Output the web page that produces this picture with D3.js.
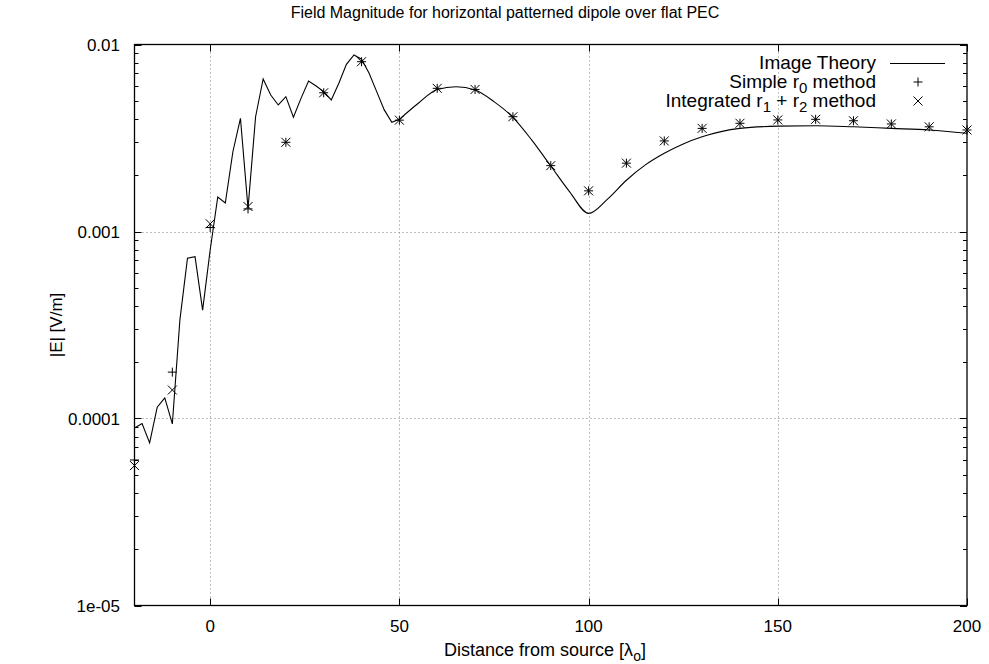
<!DOCTYPE html>
<html>
<head>
<meta charset="utf-8">
<script src="https://cdn.jsdelivr.net/npm/d3@7"></script>
<style>
  body { margin: 0; background: #fff; }
  text { font-family: "Liberation Sans", Arial, sans-serif; }
</style>
</head>
<body>
<div id="plot"></div>
<script>
// Image theory curve: jagged near field (step 2) then smooth far field
const imageX = [-20, -18, -16, -14, -12, -10, -8, -6, -4, -2, 0, 2, 4, 6, 8, 10, 12, 14, 16, 18, 20,
  22, 24, 26, 28, 30, 32, 34, 36, 38, 40, 42, 44, 46, 48, 50];
const imageY = [8.9e-5, 9.4e-5, 7.4e-5, 1.15e-4, 1.29e-4, 9.35e-5, 3.37e-4, 7.2e-4, 7.33e-4, 3.8e-4, 7.96e-4,
  1.53e-3, 1.42e-3, 2.67e-3, 4.03e-3, 1.33e-3, 4.11e-3, 6.54e-3, 5.37e-3, 4.75e-3, 5.26e-3,
  4.08e-3, 5.15e-3, 6.38e-3, 6.0e-3, 5.6e-3, 5.05e-3, 6.2e-3, 7.83e-3, 8.79e-3, 8.34e-3,
  7.01e-3, 5.6e-3, 4.47e-3, 3.84e-3, 3.98e-3];
const smoothX = [50, 55, 60, 65, 70, 75, 80, 85, 90, 95, 100, 105, 110, 115, 120, 125, 130, 140, 150, 160, 170, 180, 190, 200];
const smoothY = [3.98e-3, 4.85e-3, 5.75e-3, 5.94e-3, 5.71e-3, 4.95e-3, 4.08e-3, 3.08e-3, 2.24e-3, 1.63e-3, 1.25e-3,
  1.49e-3, 1.88e-3, 2.27e-3, 2.62e-3, 2.94e-3, 3.21e-3, 3.56e-3, 3.66e-3, 3.68e-3, 3.63e-3, 3.56e-3, 3.49e-3, 3.35e-3];

// Sample points of the two methods
const sampleX = [-20, -10, 0, 10, 20, 30, 40, 50, 60, 70, 80, 90, 100, 110, 120, 130, 140, 150, 160, 170, 180, 190, 200];
const simpleY = [6.0e-5, 1.77e-4, 1.05e-3, 1.32e-3, 3.0e-3, 5.52e-3, 8.09e-3, 3.94e-3, 5.83e-3, 5.75e-3, 4.11e-3,
  2.25e-3, 1.65e-3, 2.32e-3, 3.05e-3, 3.56e-3, 3.79e-3, 3.95e-3, 3.98e-3, 3.91e-3, 3.76e-3, 3.63e-3, 3.49e-3];
const integratedY = [5.6e-5, 1.42e-4, 1.1e-3, 1.36e-3, 3.0e-3, 5.52e-3, 8.09e-3, 3.94e-3, 5.83e-3, 5.75e-3, 4.11e-3,
  2.25e-3, 1.65e-3, 2.32e-3, 3.05e-3, 3.56e-3, 3.79e-3, 3.95e-3, 3.98e-3, 3.91e-3, 3.76e-3, 3.63e-3, 3.49e-3];

const xTicks = [0, 50, 100, 150, 200];
const yTicks = [1e-5, 1e-4, 1e-3, 1e-2];
const yTickLabels = ["1e-05", "0.0001", "0.001", "0.01"];
const legendLabels = ["Image Theory", "Simple r<sub>0</sub> method", "Integrated r<sub>1</sub> + r<sub>2</sub> method"];

const W = 989, H = 664;
const margin = { left: 134.5, right: 967, top: 44.5, bottom: 605.5 };

const svg = d3.select("#plot").append("svg")
  .attr("width", W)
  .attr("height", H);

const x = d3.scaleLinear().domain([-20, 200]).range([margin.left, margin.right]);
const y = d3.scaleLog().domain([1e-5, 1e-2]).range([margin.bottom, margin.top]);

// grid
const grid = svg.append("g").attr("stroke", "#808080").attr("stroke-dasharray", "1,3").attr("stroke-width", 1);
xTicks.filter(t => t < 200).forEach(t => {
  grid.append("line").attr("x1", Math.round(x(t)) + 0.5).attr("x2", Math.round(x(t)) + 0.5)
    .attr("y1", margin.top).attr("y2", margin.bottom);
});
yTicks.filter(t => t > 1e-5 && t < 1e-2).forEach(t => {
  grid.append("line").attr("x1", margin.left).attr("x2", margin.right)
    .attr("y1", Math.round(y(t)) + 0.5).attr("y2", Math.round(y(t)) + 0.5);
});

// ticks (mirrored, inward)
const ticks = svg.append("g").attr("stroke", "#000").attr("stroke-width", 1);
xTicks.forEach(t => {
  const px = Math.round(x(t)) + 0.5;
  ticks.append("line").attr("x1", px).attr("x2", px).attr("y1", margin.bottom).attr("y2", margin.bottom - 7);
  ticks.append("line").attr("x1", px).attr("x2", px).attr("y1", margin.top).attr("y2", margin.top + 7);
});
const minorY = [];
for (let e = -5; e < -2; e++) for (let m = 2; m <= 9; m++) minorY.push(m * Math.pow(10, e));
minorY.forEach(t => {
  const py = Math.round(y(t)) + 0.5;
  ticks.append("line").attr("x1", margin.left).attr("x2", margin.left + 4).attr("y1", py).attr("y2", py);
  ticks.append("line").attr("x1", margin.right).attr("x2", margin.right - 4).attr("y1", py).attr("y2", py);
});
yTicks.forEach(t => {
  const py = Math.round(y(t)) + 0.5;
  ticks.append("line").attr("x1", margin.left).attr("x2", margin.left + 7).attr("y1", py).attr("y2", py);
  ticks.append("line").attr("x1", margin.right).attr("x2", margin.right - 7).attr("y1", py).attr("y2", py);
});

// tick labels
svg.append("g").selectAll("text").data(xTicks).join("text")
  .attr("x", d => x(d)).attr("y", 632)
  .attr("text-anchor", "middle").attr("font-size", 17)
  .text(d => d);
svg.append("g").selectAll("text").data(yTicks).join("text")
  .attr("x", 120).attr("y", d => y(d) + 6)
  .attr("text-anchor", "end").attr("font-size", 17)
  .text((d, i) => yTickLabels[i]);

// image theory line
const line = d3.line().x(d => x(d[0])).y(d => y(d[1]));
svg.append("path")
  .datum(imageX.map((v, i) => [v, imageY[i]]))
  .attr("fill", "none").attr("stroke", "#000").attr("stroke-width", 1.1)
  .attr("d", line);
svg.append("path")
  .datum(smoothX.map((v, i) => [v, smoothY[i]]))
  .attr("fill", "none").attr("stroke", "#000").attr("stroke-width", 1.1)
  .attr("d", line.curve(d3.curveMonotoneX));

// markers
const s = 4.5;
const plusPath = (cx, cy) => `M${cx - s},${cy}H${cx + s}M${cx},${cy - s}V${cy + s}`;
const crossPath = (cx, cy) => `M${cx - s},${cy - s}L${cx + s},${cy + s}M${cx - s},${cy + s}L${cx + s},${cy - s}`;
svg.append("g").selectAll("path").data(sampleX).join("path")
  .attr("d", (d, i) => plusPath(x(d), y(simpleY[i])))
  .attr("stroke", "#000").attr("stroke-width", 1).attr("fill", "none");
svg.append("g").selectAll("path").data(sampleX).join("path")
  .attr("d", (d, i) => crossPath(x(d), y(integratedY[i])))
  .attr("stroke", "#000").attr("stroke-width", 1).attr("fill", "none");

// border
svg.append("rect").attr("x", margin.left).attr("y", margin.top)
  .attr("width", margin.right - margin.left).attr("height", margin.bottom - margin.top)
  .attr("fill", "none").attr("stroke", "#000").attr("stroke-width", 1.3);

// legend
const legend = svg.append("g");
const rowY = [63, 82, 101];
legendLabels.forEach((lab, i) => {
  const t = legend.append("text").attr("x", 876).attr("y", rowY[i] + 6)
    .attr("text-anchor", "end").attr("font-size", 19);
  const parts = lab.split(/<sub>|<\/sub>/);
  parts.forEach((p, j) => {
    const ts = t.append("tspan").text(p);
    if (j % 2 === 1) ts.attr("dy", 5).attr("font-size", 15);
    else if (j > 0) ts.attr("dy", -5);
  });
});
legend.append("line").attr("x1", 890).attr("x2", 945).attr("y1", rowY[0] + 0.5).attr("y2", rowY[0] + 0.5)
  .attr("stroke", "#000").attr("stroke-width", 1.1);
legend.append("path").attr("d", plusPath(918, rowY[1])).attr("stroke", "#000").attr("fill", "none");
legend.append("path").attr("d", crossPath(918, rowY[2])).attr("stroke", "#000").attr("fill", "none");

// titles
svg.append("text").attr("x", 505).attr("y", 18).attr("text-anchor", "middle").attr("font-size", 16)
  .text("Field Magnitude for horizontal patterned dipole over flat PEC");
const xl = svg.append("text").attr("x", 545).attr("y", 656).attr("text-anchor", "middle").attr("font-size", 18);
xl.append("tspan").text("Distance from source [λ");
xl.append("tspan").attr("dy", 5).attr("font-size", 14).text("o");
xl.append("tspan").attr("dy", -5).text("]");
svg.append("text").attr("transform", "translate(62,325) rotate(-90)")
  .attr("text-anchor", "middle").attr("font-size", 17)
  .text("|E| [V/m]");
</script>
</body>
</html>
